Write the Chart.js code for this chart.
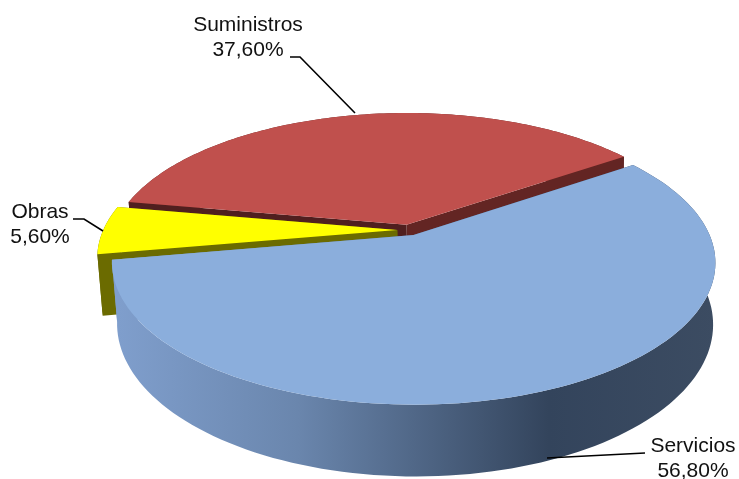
<!DOCTYPE html>
<html><head><meta charset="utf-8">
<style>html,body{margin:0;padding:0;background:#fff}canvas{display:block}</style>
<script src="https://cdn.jsdelivr.net/npm/chart.js@4"></script>
</head><body><canvas id="c" width="739" height="479"></canvas>
<script>
const categories = ["Servicios", "Obras", "Suministros"];
const shares = [56.8, 5.6, 37.6];
const shareLabels = ["56,80%", "5,60%", "37,60%"];

const topColors = ["#8baedc", "#ffff00", "#c0504d"];
const cutColors = [[null, null], ["#6b6b00", "#6b6b00"], ["#632523", "#501f1f"]];
const wallStops = [[0, "#7f9ecc"], [0.3, "#6a86ad"], [0.72, "#33445c"], [1, "#3c4c62"]];
const drawOrder = [2, 1, 0];
const view = { W: 294, k: 135, p: 0.1915, q: 0.012, D: 60.5, sx: 1.5 };
const labelFont = "21px 'Liberation Sans', Arial, sans-serif";
const labelPlacement = [
  { x: 693, y: [446, 471], line: [[645, 453], [547, 458]] },
  { x: 40, y: [212, 237], line: [[73, 219], [84, 219], [103, 231]] },
  { x: 248, y: [25, 50], line: [[290, 57], [300, 57], [355, 113]] }
];

function project(arc, u, v, h) {
  const s = 1 / (1 - view.p * v + view.q * h);
  return [arc.x + view.W * u * s + view.sx * h, arc.y + (view.k * v + view.D * h) * s];
}
function unitPoints(arc) {
  const e = arc.options.offset / arc.outerRadius;
  const mid = (arc.startAngle + arc.endAngle) / 2;
  const ax = e * Math.cos(mid), ay = e * Math.sin(mid);
  const pts = [], n = 120;
  for (let i = 0; i <= n; i++) {
    const t = arc.startAngle + (arc.endAngle - arc.startAngle) * i / n;
    pts.push([ax + Math.cos(t), ay + Math.sin(t)]);
  }
  return { apex: [ax, ay], rim: pts };
}
function poly(ctx, pts, fill) {
  ctx.beginPath();
  pts.forEach((p, i) => i ? ctx.lineTo(p[0], p[1]) : ctx.moveTo(p[0], p[1]));
  ctx.closePath();
  ctx.fillStyle = fill;
  ctx.fill();
}
const pie3d = {
  id: "pie3d",
  beforeDatasetDraw(chart, args) {
    const ctx = chart.ctx, arcs = args.meta.data;
    for (const idx of drawOrder) {
      const arc = arcs[idx], g = unitPoints(arc);
      const P = (q, h) => project(arc, q[0], q[1], h);
      const topRim = g.rim.map(q => P(q, 0)), lowRim = g.rim.map(q => P(q, 1)).reverse();
      let wall = cutColors[idx][0];
      if (idx === 0) {
        wall = ctx.createLinearGradient(119, 0, 716, 0);
        wallStops.forEach(s => wall.addColorStop(s[0], s[1]));
      }
      poly(ctx, topRim.concat(lowRim), wall);
      const first = g.rim[0], last = g.rim[g.rim.length - 1];
      poly(ctx, [P(g.apex, 0), P(first, 0), P(first, 1), P(g.apex, 1)], cutColors[idx][1] || wall);
      poly(ctx, [P(g.apex, 0), P(last, 0), P(last, 1), P(g.apex, 1)], cutColors[idx][0] || wall);
      poly(ctx, [P(g.apex, 0)].concat(topRim), arc.options.backgroundColor);
    }
    return false;
  },
  afterDraw(chart) {
    const ctx = chart.ctx;
    ctx.save();
    ctx.strokeStyle = "#000";
    ctx.lineWidth = 1.6;
    ctx.font = labelFont;
    ctx.fillStyle = "#111";
    ctx.textAlign = "center";
    ctx.textBaseline = "middle";
    categories.forEach((name, i) => {
      const lp = labelPlacement[i];
      ctx.fillText(name, lp.x, lp.y[0]);
      ctx.fillText(shareLabels[i], lp.x, lp.y[1]);
      ctx.beginPath();
      lp.line.forEach((p, j) => j ? ctx.lineTo(p[0], p[1]) : ctx.moveTo(p[0], p[1]));
      ctx.stroke();
    });
    ctx.restore();
  }
};
new Chart(document.getElementById("c"), {
  type: "pie",
  data: { labels: categories, datasets: [{ data: shares, backgroundColor: topColors, borderWidth: 0, offset: 9 }] },
  options: {
    responsive: false, animation: false, rotation: 55.5,
    layout: { padding: { left: 79, bottom: 19 } },
    plugins: { legend: { display: false }, tooltip: { enabled: false } }
  },
  plugins: [pie3d]
});
</script></body></html>
